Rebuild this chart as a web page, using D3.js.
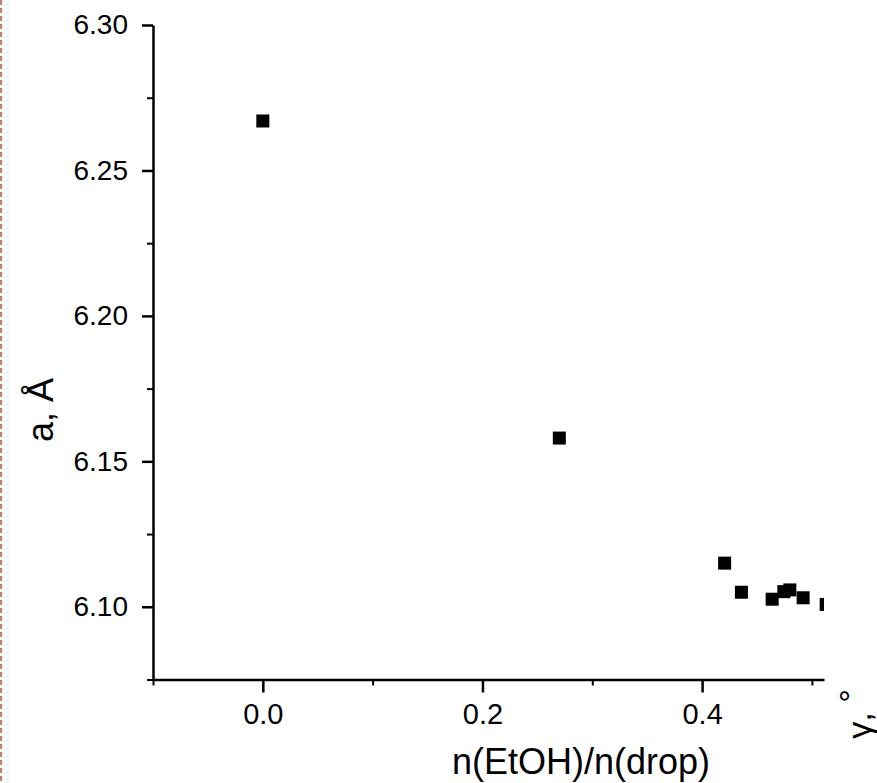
<!DOCTYPE html>
<html>
<head>
<meta charset="utf-8">
<script src="https://cdn.jsdelivr.net/npm/d3@7"></script>
<style>
  body { margin: 0; background: #fff; }
  #chart { width: 877px; height: 783px; }
  .axis path, .axis line { stroke: #000; }
  .axis text { font-family: "Liberation Sans", Arial, sans-serif; fill: #000; }
  .axisLabel { font-family: "Liberation Sans", Arial, sans-serif; fill: #000; }
</style>
</head>
<body>
<div id="chart"></div>
<script>
// data
const ratio = [0.0, 0.27, 0.4205, 0.4358, 0.4638, 0.4744, 0.4799, 0.492, 0.513];
const cellA = [6.267, 6.158, 6.115, 6.105, 6.1026, 6.1052, 6.1058, 6.1031, 6.1008];
const xTicks = [0.0, 0.2, 0.4];
const xMinor = [-0.1, 0.1, 0.3, 0.5];
const yTicks = [6.10, 6.15, 6.20, 6.25, 6.30];
const yMinor = [6.075, 6.125, 6.175, 6.225, 6.275];

document.addEventListener("DOMContentLoaded", () => {
  const W = 877, H = 783;
  const left = 153, right = 824, top = 25, bottom = 679.5;
  const box = 13;

  const svg = d3.select("#chart")
    .append("svg")
    .attr("width", W)
    .attr("height", H);

  // faint strip + dashed border at the left edge
  svg.append("rect")
    .attr("x", 1).attr("y", 0).attr("width", 9).attr("height", H)
    .attr("fill", "#f7f9fd");
  svg.append("line")
    .attr("x1", 1).attr("x2", 1).attr("y1", 0).attr("y2", H)
    .attr("stroke", "#b5533c").attr("stroke-width", 1.5)
    .attr("stroke-dasharray", "5,3");

  const xScale = d3.scaleLinear().domain([-0.1, 0.511]).range([left, right]);
  const yScale = d3.scaleLinear().domain([6.075, 6.30]).range([bottom, top]);

  svg.append("clipPath").attr("id", "plotClip")
    .append("rect")
    .attr("x", left).attr("y", top)
    .attr("width", right - left).attr("height", bottom - top);

  const data = ratio.map((r, i) => ({ x: r, y: cellA[i] }));

  svg.append("g")
    .attr("clip-path", "url(#plotClip)")
    .selectAll(".dot")
    .data(data)
    .enter()
    .append("rect")
    .attr("class", "dot")
    .attr("x", d => xScale(d.x) - box / 2)
    .attr("y", d => yScale(d.y) - box / 2)
    .attr("width", box)
    .attr("height", box)
    .attr("fill", "#000");

  // minor ticks
  svg.append("g")
    .attr("class", "axis")
    .attr("transform", `translate(0,${bottom})`)
    .call(d3.axisBottom(xScale).tickValues(xMinor).tickSize(6).tickSizeOuter(0).tickFormat(""))
    .call(g => g.select(".domain").remove())
    .selectAll("line").attr("stroke-width", 2);

  svg.append("g")
    .attr("class", "axis")
    .attr("transform", `translate(${left},0)`)
    .call(d3.axisLeft(yScale).tickValues(yMinor).tickSize(6).tickSizeOuter(0).tickFormat(""))
    .call(g => g.select(".domain").remove())
    .selectAll("line").attr("stroke-width", 2);

  // major axes
  const xAxisG = svg.append("g")
    .attr("id", "xAxis")
    .attr("class", "axis")
    .attr("transform", `translate(0,${bottom})`)
    .call(d3.axisBottom(xScale).tickValues(xTicks).tickSize(13).tickSizeOuter(0)
      .tickPadding(11).tickFormat(d3.format(".1f")));
  xAxisG.selectAll("text").style("font-size", "29px");
  xAxisG.selectAll("line").attr("stroke-width", 2.5);
  xAxisG.select(".domain").attr("stroke-width", 2.5);

  const yAxisG = svg.append("g")
    .attr("id", "yAxis")
    .attr("class", "axis")
    .attr("transform", `translate(${left},0)`)
    .call(d3.axisLeft(yScale).tickValues(yTicks).tickSize(11).tickSizeOuter(0)
      .tickPadding(14).tickFormat(d3.format(".2f")));
  yAxisG.selectAll("text").style("font-size", "28px");
  yAxisG.selectAll("line").attr("stroke-width", 2.5);
  yAxisG.select(".domain").attr("stroke-width", 2.5);

  // axis titles
  svg.append("text")
    .attr("class", "axisLabel")
    .attr("x", 581)
    .attr("y", 774)
    .attr("text-anchor", "middle")
    .style("font-size", "36px")
    .text("n(EtOH)/n(drop)");

  svg.append("text")
    .attr("class", "axisLabel")
    .attr("transform", "translate(53,410) rotate(-90)")
    .attr("text-anchor", "middle")
    .style("font-size", "36px")
    .text("a, Å");

  // title of the neighbouring panel, cut at the edge
  const gLab = svg.append("text")
    .attr("class", "axisLabel")
    .attr("transform", "translate(871,714) rotate(-90)")
    .attr("text-anchor", "middle")
    .style("font-size", "34px");
  gLab.append("tspan").text("γ, ");
  gLab.append("tspan").attr("dy", -8).text("°");
});
</script>
</body>
</html>
